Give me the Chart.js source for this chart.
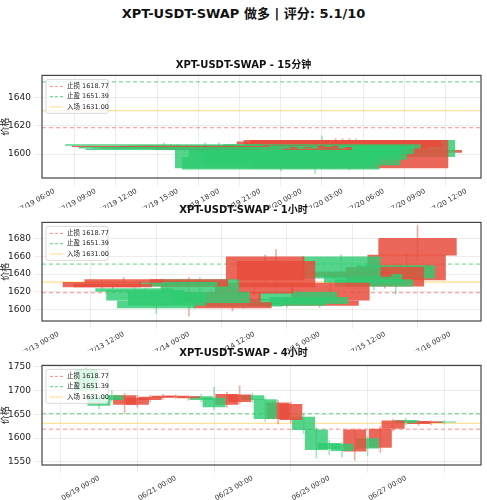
<!DOCTYPE html>
<html>
<head>
<meta charset="utf-8">
<script src="https://cdn.jsdelivr.net/npm/chart.js@4.4.1/dist/chart.umd.min.js"></script>
<style>
  body { margin: 0; background: #fff; width: 487px; height: 500px; position: relative; overflow: hidden; font-family: "DejaVu Sans", "Noto Sans CJK SC", sans-serif; }
  canvas { position: absolute; left: 0; }
  .t { position: absolute; left: 0; width: 487px; text-align: center; font-weight: bold; color: #111; }
</style>
</head>
<body>
<div class="t" style="top:3px;font-size:13px">XPT-USDT-SWAP 做多 | 评分: 5.1/10</div>
<canvas id="c1" width="487" height="141" style="top:67px"></canvas>
<canvas id="c2" width="487" height="137" style="top:214px"></canvas>
<canvas id="c3" width="487" height="143" style="top:357px"></canvas>
<div class="t" style="top:56px;font-size:10px">XPT-USDT-SWAP - 15分钟</div>
<div class="t" style="top:201px;font-size:10px">XPT-USDT-SWAP - 1小时</div>
<div class="t" style="top:344px;font-size:10px">XPT-USDT-SWAP - 4小时</div>
<script>
const YEAR = 2025;
const stopLoss = 1618.77;
const takeProfit = 1651.39;
const entry = 1631.00;

// 15 min panel
const m15Start = '07/19 14:00';
const m15StepH = 0.5;
const m15Open  = [1606,1606,1604,1603,1604,1605,1604,1605,1604,1606,1605,1606,1604,1605,1603,1603,1590,1589,1598,1600,1592,1596,1600,1604,1606,1609,1610,1610,1598,1603];
const m15Close = [1607,1605,1605.5,1604,1605,1604,1605,1604.5,1606,1605,1606,1604,1605,1603,1605,1604,1603,1598,1604,1604,1606,1605,1606,1607,1604,1607,1605,1590,1610,1601];
const m15High  = [1608,1607,1607,1605,1606,1606,1608,1606,1608,1607,1607,1607,1606,1606,1606,1605,1604,1600,1605,1605,1607,1606,1608,1613,1607,1611,1611,1611,1611,1604];
const m15Low   = [1605,1604,1603,1602,1603,1603,1603,1603,1602,1604,1604,1603,1601,1602,1600,1600,1590,1588,1597,1599,1591,1594,1586,1603,1603,1605,1603,1589,1597,1600];
const m15Ticks = ['07/19 06:00','07/19 09:00','07/19 12:00','07/19 15:00','07/19 18:00','07/19 21:00','07/20 00:00','07/20 03:00','07/20 06:00','07/20 09:00','07/20 12:00'];
const m15YTicks = [1600, 1620, 1640];

// 1 hour panel
const h1Start = '07/13 08:00';
const h1StepH = 2;
const h1Open  = [1631,1629,1634,1620,1610,1601,1604,1626,1634,1620,1607,1620,1608,1603,1630,1660,1655,1604,1610,1606,1610,1630,1635,1643,1630,1626,1648,1635,1662,1681];
const h1Close = [1625,1625,1630,1624,1622,1610,1620,1631,1626,1634,1620,1608,1601,1608,1618,1633,1625,1612,1620,1614,1604,1610,1660,1637,1640,1634,1626,1650,1633,1661];
const h1High  = [1633,1630,1636,1626,1624,1612,1622,1633,1636,1636,1622,1622,1609,1610,1632,1662,1668,1614,1622,1616,1612,1632,1662,1646,1642,1636,1650,1652,1664,1695];
const h1Low   = [1623,1623,1628,1618,1608,1595,1604,1624,1592,1618,1605,1606,1598,1601,1616,1631,1623,1602,1608,1604,1602,1608,1633,1635,1628,1622,1624,1617,1631,1659];
const h1Ticks = ['07/13 00:00','07/13 12:00','07/14 00:00','07/14 12:00','07/15 00:00','07/15 12:00','07/16 00:00'];
const h1YTicks = [1600, 1620, 1640, 1660, 1680];

// 4 hour panel
const h4Start = '06/18 16:00';
const h4StepH = 8;
const h4Open  = [1700,1668,1680,1690,1685,1687,1689,1689,1688,1680,1665,1693,1692,1680,1640,1675,1672,1617,1575,1577,1573,1618,1578,1620,1637,1632,1636,1635,1633];
const h4Close = [1745,1690,1690,1670,1670,1680,1685,1686,1684,1688,1685,1670,1676,1690,1682,1640,1638,1645,1618,1590,1588,1572,1600,1580,1620,1638,1630,1632,1635];
const h4High  = [1748,1695,1700,1694,1690,1690,1692,1691,1690,1692,1707,1697,1710,1695,1686,1680,1676,1650,1622,1595,1592,1620,1605,1625,1640,1642,1638,1637,1637];
const h4Low   = [1697,1662,1676,1652,1665,1676,1682,1683,1680,1676,1660,1665,1672,1675,1635,1630,1632,1610,1558,1565,1560,1553,1563,1570,1615,1628,1627,1628,1630];
const h4Ticks = ['06/19 00:00','06/21 00:00','06/23 00:00','06/25 00:00','06/27 00:00'];
const h4YTicks = [1550, 1600, 1650, 1700, 1750];

const UP = 'rgba(46,204,113,0.82)';
const DOWN = 'rgba(231,76,60,0.85)';
const FONT = '"DejaVu Sans", "Noto Sans CJK SC", sans-serif';
const HOUR = 3600e3;

function ts(s) {
  const [md, hm] = s.split(' ');
  const [m, d] = md.split('/');
  const [h, mi] = hm.split(':');
  return Date.UTC(YEAR, m - 1, +d, +h, +mi);
}
function fmt(v) {
  const d = new Date(v);
  const p = (n) => String(n).padStart(2, '0');
  return `${p(d.getUTCMonth() + 1)}/${p(d.getUTCDate())} ${p(d.getUTCHours())}:${p(d.getUTCMinutes())}`;
}

const frame = {
  id: 'frame',
  afterDatasetsDraw(chart) {
    const { ctx, chartArea: a } = chart;
    ctx.save();
    // legend box
    const x = a.left + 4, y = a.top + 4;
    ctx.fillStyle = 'rgba(255,255,255,0.8)';
    ctx.strokeStyle = '#d0d0d0';
    ctx.lineWidth = 0.8;
    ctx.beginPath();
    ctx.roundRect(x, y, 62, 34, 2);
    ctx.fill();
    ctx.stroke();
    const rows = [
      ['止损 1618.77', 'rgba(255,90,90,0.7)', [3, 2]],
      ['止盈 1651.39', 'rgba(40,200,80,0.8)', [3, 2]],
      ['入场 1631.00', 'rgba(255,205,90,0.7)', []],
    ];
    ctx.font = `6.5px ${FONT}`;
    ctx.textBaseline = 'middle';
    rows.forEach(([label, color, dash], i) => {
      const ry = y + 7 + i * 10.3;
      ctx.strokeStyle = color;
      ctx.lineWidth = 1;
      ctx.setLineDash(dash);
      ctx.beginPath();
      ctx.moveTo(x + 4, ry);
      ctx.lineTo(x + 17, ry);
      ctx.stroke();
      ctx.setLineDash([]);
      ctx.fillStyle = '#222';
      ctx.fillText(label, x + 21, ry);
    });
    ctx.strokeStyle = '#444';
    ctx.lineWidth = 1.2;
    ctx.strokeRect(a.left, a.top, a.right - a.left, a.bottom - a.top);
    ctx.restore();
  },
};

function panel(id, p) {
  const t0 = ts(p.start);
  const n = p.open.length;
  const times = p.open.map((_, i) => t0 + i * p.stepH * HOUR);
  // newest first, so the oldest candles end up drawn on top
  const idx = [...Array(n).keys()].reverse();
  const bodies = idx.map((i) => ({ x: times[i], y: [p.open[i], p.close[i]] }));
  const colors = idx.map((i) => (p.close[i] >= p.open[i] ? UP : DOWN));
  const wicks = idx.map((i) => ({ x: times[i], y: [p.low[i], p.high[i]] }));
  const wickColors = idx.map((i) => (p.close[i] >= p.open[i] ? 'rgba(46,204,113,0.45)' : 'rgba(231,76,60,0.45)'));
  const xMin = ts(p.xMin), xMax = ts(p.xMax);
  const hline = (v, color, dash, w) => ({
    type: 'line',
    data: [{ x: xMin, y: v }, { x: xMax, y: v }],
    borderColor: color,
    borderDash: dash,
    borderWidth: w,
    pointRadius: 0,
  });
  const tickVals = p.ticks.map(ts);

  new Chart(document.getElementById(id), {
    type: 'bar',
    data: {
      datasets: [
        {
          data: bodies,
          backgroundColor: colors,
          borderWidth: 0,
          borderSkipped: false,
          grouped: false,
          categoryPercentage: 1,
          barPercentage: 14.4 / p.stepH,
        },
        {
          data: wicks,
          backgroundColor: wickColors,
          borderWidth: 0,
          grouped: false,
          barThickness: 1,
        },
        hline(takeProfit, 'rgba(40,200,80,0.75)', [4, 3], 1),
        hline(stopLoss, 'rgba(255,90,90,0.7)', [4, 3], 1),
        hline(entry, 'rgba(255,205,90,0.6)', [], 1.3),
      ],
    },
    options: {
      responsive: false,
      animation: false,
      layout: { padding: { top: 2, right: 6, left: 0, bottom: 0 } },
      plugins: { legend: { display: false }, tooltip: { enabled: false } },
      scales: {
        x: {
          type: 'linear',
          min: xMin,
          max: xMax,
          offset: false,
          afterBuildTicks: (s) => { s.ticks = tickVals.map((v) => ({ value: v })); },
          afterFit: (s) => { s.height = p.xh; },
          ticks: {
            callback: (v) => fmt(v),
            maxRotation: 30,
            minRotation: 30,
            autoSkip: false,
            color: '#333',
            font: { size: 7, family: FONT },
            padding: 1,
          },
          grid: { color: 'rgba(0,0,0,0.07)' },
          border: { display: false },
        },
        y: {
          min: p.yMin,
          max: p.yMax,
          afterBuildTicks: (s) => { s.ticks = p.yTicks.map((v) => ({ value: v })); },
          ticks: { callback: (v) => String(v), color: '#222', font: { size: 9, family: FONT }, padding: 3 },
          afterFit: (s) => { s.width = 42; },
          title: { display: true, text: '价格', color: '#222', font: { size: 9, family: FONT }, padding: 0 },
          grid: { color: 'rgba(0,0,0,0.07)' },
          border: { display: false },
        },
      },
    },
    plugins: [frame],
  });
}

panel('c1', {
  start: m15Start, stepH: m15StepH, open: m15Open, close: m15Close, high: m15High, low: m15Low,
  ticks: m15Ticks, yTicks: m15YTicks, xMin: '07/19 05:07', xMax: '07/20 13:05', yMin: 1583, yMax: 1656, xh: 30,
});
panel('c2', {
  start: h1Start, stepH: h1StepH, open: h1Open, close: h1Close, high: h1High, low: h1Low,
  ticks: h1Ticks, yTicks: h1YTicks, xMin: '07/12 21:00', xMax: '07/16 05:40', yMin: 1586.6, yMax: 1698.8, xh: 30,
});
panel('c3', {
  start: h4Start, stepH: h4StepH, open: h4Open, close: h4Close, high: h4High, low: h4Low,
  ticks: h4Ticks, yTicks: h4YTicks, xMin: '06/17 12:20', xMax: '06/28 23:00', yMin: 1543.5, yMax: 1753, xh: 35,
});
</script>
</body>
</html>
